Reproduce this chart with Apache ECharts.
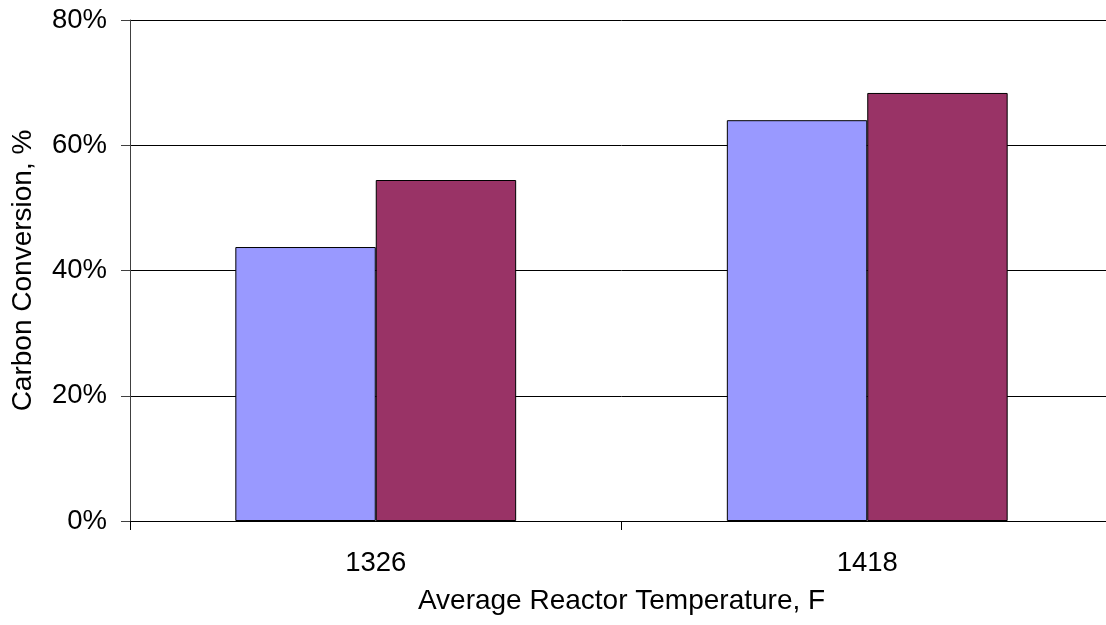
<!DOCTYPE html>
<html>
<head>
<meta charset="utf-8">
<script src="https://cdn.jsdelivr.net/npm/echarts@6/dist/echarts.min.js"></script>
<style>
html,body{margin:0;padding:0;background:#fff;overflow:hidden;width:1106px;height:625px;}
#chart{width:1113px;height:625px;}
</style>
</head>
<body>
<div id="chart"></div>
<script>
const categories = ['1326', '1418'];
const seriesA = [43.75, 64.0];
const seriesB = [54.45, 68.35];
const yTicks = [0, 20, 40, 60, 80];

const chart = echarts.init(document.getElementById('chart'), null, {renderer: 'canvas'});
const font = '"Liberation Sans", Arial, sans-serif';
chart.setOption({
  animation: false,
  backgroundColor: '#ffffff',
  grid: {left: 130, top: 20, right: 0, bottom: 104, containLabel: false},
  xAxis: {
    type: 'category',
    data: categories,
    name: 'Average Reactor Temperature, F',
    nameLocation: 'middle',
    nameGap: 66,
    nameTextStyle: {fontFamily: font, fontSize: 28, color: '#000'},
    axisLine: {lineStyle: {color: '#000', width: 1}},
    axisTick: {show: true, alignWithLabel: false, length: 9, lineStyle: {color: '#000'}},
    axisLabel: {fontFamily: font, fontSize: 27.5, color: '#000', margin: 28}
  },
  yAxis: {
    type: 'value',
    min: yTicks[0],
    max: yTicks[yTicks.length - 1],
    interval: 20,
    name: 'Carbon Conversion, %',
    nameLocation: 'middle',
    nameGap: 93,
    nameRotate: 90,
    nameTextStyle: {fontFamily: font, fontSize: 28, color: '#000'},
    axisLine: {show: true, lineStyle: {color: '#404040', width: 1}},
    axisTick: {show: true, length: 9, lineStyle: {color: '#404040'}},
    axisLabel: {fontFamily: font, fontSize: 27.5, color: '#000', margin: 23, formatter: '{value}%'},
    splitLine: {show: true, lineStyle: {color: '#000', width: 1}}
  },
  series: [
    {
      type: 'bar',
      data: seriesA,
      barGap: '0%',
      barCategoryGap: '42.86%',
      itemStyle: {color: '#9999FF', borderColor: '#000', borderWidth: 1}
    },
    {
      type: 'bar',
      data: seriesB,
      barGap: '0%',
      barCategoryGap: '42.86%',
      itemStyle: {color: '#993366', borderColor: '#000', borderWidth: 1}
    }
  ]
});
</script>
</body>
</html>
